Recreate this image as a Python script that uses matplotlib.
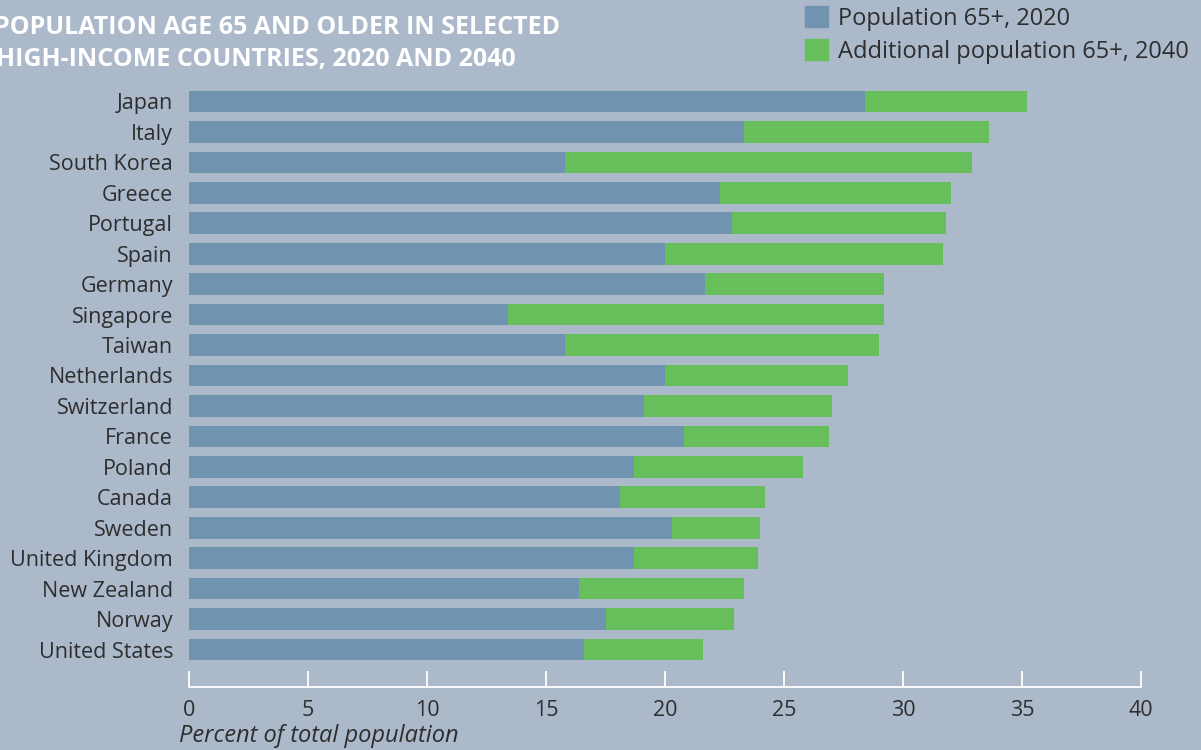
import matplotlib
matplotlib.use("Agg")
from matplotlib import pyplot as plt
from matplotlib.patches import Patch

countries = ["Japan", "Italy", "South Korea", "Greece", "Portugal", "Spain",
             "Germany", "Singapore", "Taiwan", "Netherlands", "Switzerland",
             "France", "Poland", "Canada", "Sweden", "United Kingdom",
             "New Zealand", "Norway", "United States"]
pop_2020 = [28.4, 23.3, 15.8, 22.3, 22.8, 20.0, 21.7, 13.4, 15.8, 20.0,
            19.1, 20.8, 18.7, 18.1, 20.3, 18.7, 16.4, 17.5, 16.6]
added_2040 = [6.8, 10.3, 17.1, 9.7, 9.0, 11.7, 7.5, 15.8, 13.2, 7.7,
              7.9, 6.1, 7.1, 6.1, 3.7, 5.2, 6.9, 5.4, 5.0]
x_ticks = [0, 5, 10, 15, 20, 25, 30, 35, 40]

bg = "#acb9cb"
blue = "#7093af"
green = "#67bf5c"
text_col = "#2e2e2e"

plt.rcParams["font.family"] = ["Open Sans", "DejaVu Sans"]

fig = plt.figure(figsize=(12.01, 7.5), dpi=100, facecolor=bg)
ax = fig.add_axes([189 / 1201, 1 - 687 / 750, 952 / 1201, 602 / 750])
ax.set_facecolor(bg)

pos = range(len(countries))
ax.barh(pos, pop_2020, height=0.71, color=blue, label="Population 65+, 2020")
ax.barh(pos, added_2040, left=pop_2020, height=0.71, color=green,
        label="Additional population 65+, 2040")

ax.set_xlim(0, 40)
ax.set_ylim(len(countries) - 1 + 1.23, -0.54)
ax.set_yticks(list(pos))
ax.set_yticklabels(countries)
ax.set_xticks(x_ticks)
ax.set_xticklabels([str(t) for t in x_ticks])

for s in ["top", "right", "left"]:
    ax.spines[s].set_visible(False)
ax.spines["bottom"].set_color("white")
ax.spines["bottom"].set_linewidth(1.3)
ax.tick_params(axis="y", length=0, pad=11.5, labelsize=15.5, labelcolor=text_col)
ax.tick_params(axis="x", direction="in", length=11.5, width=1.3, color="white",
               pad=9, labelsize=15.5, labelcolor=text_col)

fig.text(179 / 1201, 1 - 742 / 750, "Percent of total population",
         fontsize=17, style="italic", color=text_col, ha="left", va="baseline")

# title runs off the left edge, as in the original graphic
fig.text(-6 / 1201, 1 - 34 / 750, "POPULATION AGE 65 AND OLDER IN SELECTED",
         fontsize=18, fontweight="bold", color="white", ha="left", va="baseline")
fig.text(-4 / 1201, 1 - 66 / 750, "HIGH-INCOME COUNTRIES, 2020 AND 2040",
         fontsize=18, fontweight="bold", color="white", ha="left", va="baseline")

handles = [Patch(color=blue, label="Population 65+, 2020"),
           Patch(color=green, label="Additional population 65+, 2040")]
fig.legend(handles=handles, loc="upper left", bbox_to_anchor=(805 / 1201, 1 - 6 / 750),
           frameon=False, fontsize=17, handlelength=0.98, handleheight=0.98,
           handletextpad=0.4, labelspacing=0.38, borderpad=0, borderaxespad=0,
           labelcolor=text_col)

plt.savefig("out.png", dpi=100, facecolor=bg)
